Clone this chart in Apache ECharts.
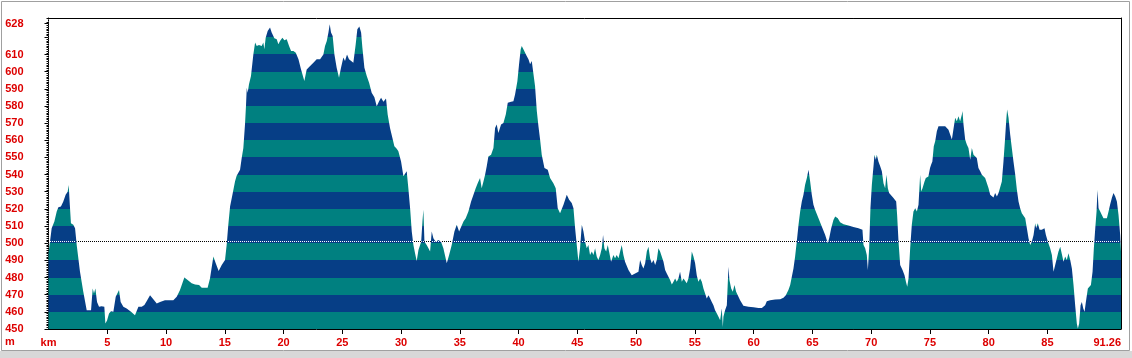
<!DOCTYPE html>
<html><head><meta charset="utf-8">
<script src="https://cdn.jsdelivr.net/npm/echarts@6/dist/echarts.min.js"></script>
<style>html,body{margin:0;padding:0;background:#fff;overflow:hidden}#c{width:1132px;height:358px}</style>
</head><body><div id="c"></div>
<script>
// ---- data (km, m) read from the profile ----
const distanceKm = [
0,0.27,0.5,0.7,0.84,1.06,1.26,1.46,1.63,1.72,1.8,1.91,2.11,2.26,2.4,2.68,2.96,3.25,3.39,3.62,3.76,3.87,3.99,4.13,4.3,4.52,4.75,4.84,4.98,5.15,5.32,5.52,5.72,5.86,6.0,6.14,6.37,6.65,7.02,7.36,7.65,7.93,8.16,8.35,8.64,8.92,9.21,9.49,9.91,10.62,10.91,11.19,11.56,11.84,12.18,12.47,12.61,12.81,13.04,13.54,13.74,14.03,14.23,14.48,14.74,
15.02,15.16,15.3,15.45,15.65,15.87,16.01,16.3,16.44,16.58,16.72,16.81,16.87,16.95,17.06,17.23,17.43,17.58,17.72,17.91,18.14,18.28,18.37,18.48,18.65,18.85,18.99,19.22,19.42,19.56,19.7,19.9,20.07,20.27,20.47,20.64,20.84,21.04,21.27,21.49,21.77,21.97,22.26,22.54,22.82,23.11,23.39,23.53,23.68,23.82,23.93,24.04,24.18,24.33,24.52,24.72,24.89,25.09,25.23,25.4,25.57,25.74,25.94,26.14,26.28,26.45,26.6,26.71,26.88,27.08,27.28,27.5,27.73,27.93,28.13,28.3,28.5,28.72,28.86,29.06,29.26,29.43,29.63,29.77,30.0,30.2,
30.34,30.48,30.62,30.77,30.91,31.05,31.19,31.33,31.48,31.71,31.82,31.9,31.99,32.18,32.33,32.47,32.61,32.75,32.95,33.18,33.4,33.6,33.89,34.09,34.31,34.54,34.74,34.94,35.11,35.31,35.5,35.73,35.96,36.16,36.35,36.52,36.72,36.86,37.01,37.15,37.29,37.43,37.66,37.86,38.0,38.14,38.28,38.51,38.71,38.91,39.08,39.36,39.56,39.7,39.9,40.04,40.18,40.27,40.41,40.55,40.69,40.84,40.98,41.12,41.26,41.4,41.55,41.69,41.83,41.97,42.2,42.48,42.68,42.96,43.16,43.33,43.53,43.67,43.82,44.1,44.3,44.52,44.67,44.81,44.95,45.09,45.23,45.38,45.52,
45.66,45.8,45.94,46.08,46.23,46.37,46.51,46.65,46.79,46.94,47.08,47.19,47.3,47.45,47.59,47.7,47.87,48.07,48.21,48.35,48.5,48.64,48.78,48.92,49.06,49.21,49.35,49.49,49.63,49.77,49.91,50.06,50.2,50.34,50.48,50.62,50.77,50.91,51.05,51.19,51.33,51.48,51.62,51.76,51.9,52.04,52.18,52.33,52.47,52.61,52.75,52.89,53.04,53.18,53.32,53.46,53.6,53.74,53.89,54.03,54.17,54.31,54.45,54.6,54.74,54.88,55.02,55.16,55.3,55.45,55.59,55.73,55.87,56.01,56.16,56.3,56.44,56.58,56.72,56.87,57.01,57.15,57.29,57.38,57.43,57.57,57.72,57.86,57.94,58.09,58.23,58.37,58.51,58.65,58.85,59.13,59.56,59.99,60.41,60.7,
60.98,61.12,61.4,61.83,62.26,62.54,62.74,62.96,63.11,63.25,63.39,63.53,63.67,63.82,63.96,64.1,64.24,64.38,64.53,64.67,64.81,64.95,65.09,65.23,65.52,65.8,66.09,66.31,66.43,66.6,66.79,66.94,67.16,67.36,67.65,68.07,68.49,68.92,69.26,69.35,69.49,69.63,69.72,69.83,69.94,70.06,70.2,70.28,70.4,70.48,70.62,70.77,70.91,71.05,71.19,71.3,71.42,71.53,71.7,71.9,72.13,72.21,72.33,72.47,72.67,72.84,72.96,73.07,73.18,73.32,73.46,73.6,73.75,73.89,74.03,74.17,74.26,74.37,74.54,74.65,74.87,75.01,75.1,75.21,75.33,75.45,75.59,75.73,75.87,76.01,76.16,
76.3,76.44,76.58,76.72,76.87,77.01,77.15,77.29,77.43,77.57,77.72,77.77,77.86,78.0,78.14,78.28,78.43,78.57,78.71,78.85,78.99,79.13,79.28,79.42,79.56,79.7,79.84,79.99,80.13,80.27,80.41,80.55,80.7,80.84,80.98,81.12,81.26,81.4,81.49,81.57,81.69,81.83,81.97,82.11,82.26,82.4,82.54,82.68,82.82,82.96,83.11,83.25,83.39,83.53,83.67,83.82,83.96,84.04,84.18,84.33,84.52,84.75,84.87,85.04,85.23,85.38,85.52,85.66,85.8,85.94,86.09,86.23,86.37,86.51,86.65,86.79,86.94,87.08,87.22,87.36,87.5,87.59,87.7,87.82,87.93,88.05,88.16,88.27,88.44,88.55,88.7,88.84,88.95,89.07,89.18,89.26,89.35,89.49,89.63,89.77,89.91,90.06,90.2,90.33,90.48,90.62,90.77,90.91,91.05,91.19,91.26
];
const elevationM = [
494,508.7,512.6,518.5,521,521.4,524.3,528.2,530,534,524,511.7,510.7,508.7,499,483.4,471.7,461,460,461,473.6,470.7,473.6,465.8,463,463.3,463,453.2,455,459,460.4,460,468.8,467.8,472.7,465.8,463,462,460,458,463,463,464,466.2,469.7,467.4,464.9,465.8,466.8,466.8,468.8,472.7,480,478.5,476.6,476,477,475.6,474,474,479.5,492.2,488.3,483.8,487.3,
490.2,499,510.7,521.4,528.2,536,539.3,542.8,549.7,555.5,569.2,580.9,590.6,587.7,592.6,597.4,610,617,615,615.6,615,617,613,619.8,623.7,625.7,622.8,619.5,618.9,616,617.9,619.8,618.3,618.9,615,612,612,611,607.2,601.3,594.5,601.3,603.3,605.2,607.2,607.2,610,615,617.9,622.8,627.6,622.8,620.8,610,602.3,596.5,602.3,608.2,606.2,610,607.2,608.2,605.2,616,624.7,626.3,622.8,614,602.3,597.4,593.5,587.7,585.1,579.9,582.8,584.8,582.4,584.4,575,567.2,561.4,556.5,555.1,553.6,547.7,539,
540,542,532,520.4,506.8,499,494.1,489.6,496.1,500.9,512.6,519.5,500.9,499,497,495.1,506.8,502.9,500.9,501.9,500.9,497,488.3,493.1,499,506.8,510.7,506.8,506.8,512.6,514.6,518.5,524.3,528.2,532.1,535,538,532.1,536,539.9,544.8,550.6,551.6,555.5,567.2,569.2,564.3,569.2,570.1,575,581.8,582.4,582.8,586.7,594.5,604.3,613,615,613,613.6,609.1,607.2,604.3,606.2,605.2,591.6,577,568.2,560.4,551.6,543.8,542.8,538,535,532.1,520.4,517.5,516.5,522.4,528.2,525.3,523.4,520.4,508.7,499,489.2,497,510.7,506.8,
500.9,497,499,493.1,495.1,493.1,497,492.2,490.2,493.1,497,504.8,497,495.1,499,495.1,489.2,493.1,491.2,493.1,491.2,495.1,499,493.1,489.2,488.3,484.4,483.4,481.4,480.5,482.4,481.4,483.4,490.2,487.3,485.3,488.3,495.1,498,491.2,488.3,490.2,487.3,490.2,497,495.1,494.1,489.2,484.4,482.4,480.5,478.5,476,477.5,479.5,477.5,479.5,483.4,477.5,479.5,478.5,476.6,479.5,485.3,495.1,492.2,488.3,481.4,477.5,479.5,477.5,473.6,470.7,467.8,469.7,467.8,465.8,463.9,461,459,457.1,455.1,462,451.2,457.1,461,463.9,486.3,478.5,473.6,471.7,475.6,471.7,469.7,466.8,463.5,462.9,462.7,462.3,462.3,
463.9,466.2,466.8,467.2,467.4,468.2,469.7,472.7,475.6,480.5,485.3,492.2,500.9,510.7,518.5,524.3,528.2,534.1,538,542.8,536,528.2,522.4,519.5,514.6,509.7,504.8,500,502.9,508.7,513.6,515.6,514.6,512.2,511.1,510.3,509.5,508.7,507.8,499,497,493.1,484.4,497,520.4,534.1,544.8,551.6,548.7,551.6,547.7,544.8,541.9,535,532.1,539.9,532.1,529.2,528.2,526.3,524.3,516.5,500.9,487.3,484.4,481.4,477.5,474.6,479.5,497,510.7,518.5,520.4,518.5,522.4,539.9,530.2,532.1,536,538,538.9,543.8,545.8,547.7,556.5,559.4,565.3,568.2,567.6,568.2,567.2,
568.2,567.2,566.2,565.3,560.4,560.4,573.1,571.1,574,571.1,575,577,569.2,560.4,557.5,555.5,548.7,555.5,551.6,552.6,549.7,543.8,541.9,539.9,538.9,538,537,532.1,528.2,529.2,526.7,529.2,527.3,529.2,530.2,536,547.7,561.4,571.1,577.9,573.1,563.3,555.5,547.7,539.9,531.2,524.3,520.4,517.5,517.5,514.6,508.7,502.9,499,500.9,504.8,511.7,508.7,511.7,507.8,507.8,508.7,504.8,500.9,497,493.1,483.4,487.3,491.2,495.1,498,497,489.2,492.2,490.2,494.1,490.2,485.3,475.6,463.9,453.2,450.3,453.2,463.9,465.8,462,460,465.8,473.6,472.7,475.6,483.4,497,508.7,518.5,531.2,520.4,518.5,516.5,514.6,513.6,514.6,518.5,522.4,526.3,529.2,527.3,524.3,516.5,504.8,495.1
];
const yTickValues = [450,460,470,480,490,500,510,520,530,540,550,560,570,580,590,600,610,620,628];
const yLabelValues = [450,460,470,480,490,500,510,520,530,540,550,560,570,580,590,600,610,628];
const xLabelValues = [0,5,10,15,20,25,30,35,40,45,50,55,60,65,70,75,80,85,91.26];
const xTickValues = [5,10,15,20,25,30,35,40,45,50,55,60,65,70,75,80,85];
const bandStarts = [450,460,470,480,490,500,510,520,530,540,550,560,570,580,590,600,610,620,630];
const meanElevation = 501;

const TEAL = '#008080', NAVY = '#063e86', RED = '#dd0000';
const FONT = '"Liberation Sans", Arial, sans-serif';
const X_MAX = 91.26, Y_MIN = 450, Y_MAX = 631.27;

const points = distanceKm.map((k, i) => [k, elevationM[i]]);
const pieces = bandStarts.map(v => ({ gte: v, lt: v + 10, color: (v / 10) % 2 === 0 ? NAVY : TEAL }));

// stretches of the mean line that lie over the filled profile (drawn white there)
const overSegments = [];
(function () {
  let start = elevationM[0] > meanElevation ? distanceKm[0] : null;
  for (let i = 1; i < distanceKm.length; i++) {
    const e0 = elevationM[i - 1], e1 = elevationM[i], k0 = distanceKm[i - 1], k1 = distanceKm[i];
    const a0 = e0 > meanElevation, a1 = e1 > meanElevation;
    if (a0 !== a1) {
      const kx = k0 + (meanElevation - e0) * (k1 - k0) / (e1 - e0);
      if (a1) start = kx; else { overSegments.push([start, kx]); start = null; }
    }
  }
  if (start !== null) overSegments.push([start, distanceKm[distanceKm.length - 1]]);
})();

const chart = echarts.init(document.getElementById('c'), null, { renderer: 'canvas' });
function build(whiteOffsets, blackOffset) {
  return {
    animation: false,
    backgroundColor: '#fff',
    grid: { left: 48.5, right: 11, top: 18, bottom: 29, containLabel: false },
    xAxis: [{
      type: 'value', min: 0, max: X_MAX, interval: 5,
      splitLine: { show: false },
      axisLine: { lineStyle: { color: '#000', width: 1 } },
      axisTick: { show: true, customValues: xTickValues, length: 5, lineStyle: { color: '#000' } },
      axisLabel: {
        customValues: xLabelValues, margin: 8, color: RED, fontWeight: 'bold', fontSize: 11, fontFamily: FONT,
        alignMaxLabel: 'right',
        formatter: v => v === 0 ? 'km' : String(v)
      }
    }, {
      type: 'value', min: 0, max: X_MAX, position: 'top',
      axisLine: { show: true, onZero: false, lineStyle: { color: '#000' } },
      axisTick: { show: false }, axisLabel: { show: false }, splitLine: { show: false }
    }],
    yAxis: [{
      type: 'value', min: Y_MIN, max: Y_MAX, interval: 10,
      splitLine: { show: false },
      axisLine: { show: true, lineStyle: { color: '#000', type: [1, 1], width: 1 } },
      axisTick: { show: true, customValues: yTickValues, length: 4, lineStyle: { color: '#000' } },
      minorTick: { show: true, splitNumber: 10, length: 2, lineStyle: { color: '#000' } },
      axisLabel: { customValues: yLabelValues, margin: 25, color: RED, fontWeight: 'bold', fontSize: 11, fontFamily: FONT }
    }, {
      type: 'value', min: Y_MIN, max: Y_MAX, position: 'right',
      axisLine: { show: true, onZero: false, lineStyle: { color: '#000' } },
      axisTick: { show: false }, axisLabel: { show: false }, splitLine: { show: false }
    }],
    visualMap: {
      type: 'piecewise', show: false, dimension: 1, seriesIndex: 0, pieces: pieces
    },
    series: [{
      type: 'line', data: points, z: 2, showSymbol: false, symbol: 'none', silent: true,
      lineStyle: { width: 0, opacity: 0 },
      areaStyle: { opacity: 1 }
    }, {
      type: 'line', data: [], silent: true, z: 1,
      markLine: { silent: true, symbol: 'none', z: 1, label: { show: false },
        lineStyle: { color: '#000', type: [1, 1], width: 1, dashOffset: blackOffset },
        data: [{ yAxis: meanElevation }] }
    }, {
      type: 'line', data: [], silent: true, z: 3,
      markLine: { silent: true, symbol: 'none', z: 3, label: { show: false },
        lineStyle: { color: '#fff', type: [1, 1], width: 1 },
        data: overSegments.map((s, i) => [
          { coord: [s[0], meanElevation], lineStyle: { dashOffset: whiteOffsets[i] } },
          { coord: [s[1], meanElevation] }
        ]) }
    }],
    graphic: [
      { type: 'rect', silent: true, shape: { x: 0, y: 351, width: 1132, height: 7 }, style: { fill: '#d8d8d8' } },
      { type: 'rect', silent: true, shape: { x: 1.5, y: 1.5, width: 1128, height: 349 }, style: { fill: null, stroke: '#a0a0a0', lineWidth: 1 } },
      { type: 'text', silent: true, left: 5, top: 336, style: { text: 'm', fill: RED, font: 'bold 11px ' + FONT } }
    ]
  };
}
chart.setOption(build(overSegments.map(() => 0), 0));
// align the 1px dots to the pixel grid so they stay crisp
const frac = x => x - Math.floor(x);
const x0 = chart.convertToPixel({ gridIndex: 0 }, [0, meanElevation])[0];
const whiteOffsets = overSegments.map(s => frac(chart.convertToPixel({ gridIndex: 0 }, [s[0], meanElevation])[0]));
chart.setOption(build(whiteOffsets, frac(x0)));
</script></body></html>
